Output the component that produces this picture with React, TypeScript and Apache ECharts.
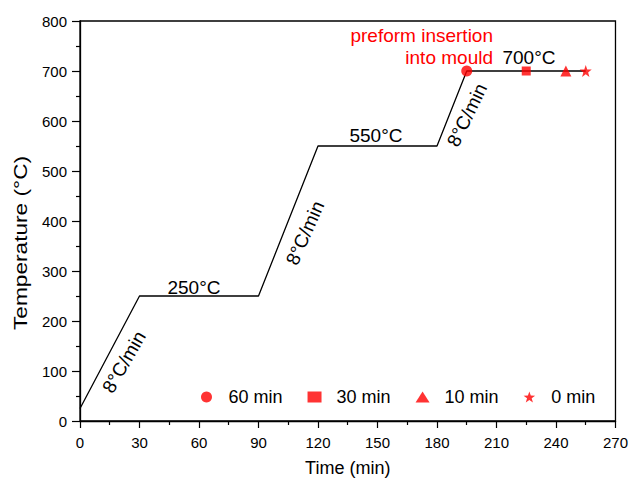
import React, { useEffect, useRef } from "react";
import * as echarts from "echarts";

const profileTime = [0, 30, 90, 120, 180, 195, 255];
const profileTemp = [25, 250, 250, 550, 550, 700, 700];

const markerNames = ["60 min", "30 min", "10 min", "0 min"];
const markerTime = [195, 225, 245, 255];
const markerTemp = [700, 700, 700, 700];

const xTicks = [0, 30, 60, 90, 120, 150, 180, 210, 240, 270];
const yTicks = [0, 100, 200, 300, 400, 500, 600, 700, 800];

const STAR =
  "path://M0,-10 L2.35,-3.24 9.51,-3.09 3.8,1.24 5.88,8.09 0,4 -5.88,8.09 -3.8,1.24 -9.51,-3.09 -2.35,-3.24 Z";
const markerSymbols = ["circle", "rect", "triangle", STAR];
const markerSizes = [11, 9, 11, 12];

const FONT = "'Liberation Sans', Arial, sans-serif";

export default function App() {
  const ref = useRef<HTMLDivElement>(null);
  useEffect(() => {
    document.body.style.margin = "0";
    const chart = echarts.init(ref.current!, null, { renderer: "svg" });
    const txt = (text: string, x: number, y: number, opts: any = {}) => ({
      type: "text",
      x,
      y,
      rotation: opts.rotation || 0,
      scaleX: opts.scaleX || 1,
      style: {
        text,
        fill: opts.color || "#000",
        font: `${opts.size || 19}px ${FONT}`,
        align: opts.align || "center",
        verticalAlign: "middle",
      },
    });
    const deg = Math.PI / 180;
    chart.setOption({
      animation: false,
      backgroundColor: "#fff",
      textStyle: { fontFamily: FONT },
      grid: {
        left: 80,
        right: 13,
        top: 21,
        bottom: 60,
        show: true,
        borderColor: "#000",
        borderWidth: 1.3,
        backgroundColor: "transparent",
      },
      xAxis: {
        type: "value",
        min: 0,
        max: 270,
        interval: 30,
        name: "Time (min)",
        nameLocation: "middle",
        nameGap: 38,
        nameTextStyle: { fontSize: 18, color: "#000", fontFamily: FONT },
        axisLine: { lineStyle: { color: "#000", width: 1.3 } },
        axisTick: { show: true, length: 7, lineStyle: { color: "#000", width: 1.2 } },
        minorTick: { show: true, splitNumber: 2, length: 4, lineStyle: { color: "#000", width: 1.2 } },
        axisLabel: {
          fontSize: 15,
          color: "#000",
          margin: 14,
          fontFamily: FONT,
          formatter: (v: number) => (xTicks.includes(v) ? String(v) : ""),
        },
        splitLine: { show: false },
      },
      yAxis: {
        type: "value",
        min: 0,
        max: 800,
        interval: 100,
        axisLine: { show: true, lineStyle: { color: "#000", width: 1.3 } },
        axisTick: { show: true, length: 8, lineStyle: { color: "#000", width: 1.2 } },
        minorTick: { show: true, splitNumber: 2, length: 4, lineStyle: { color: "#000", width: 1.2 } },
        axisLabel: {
          fontSize: 15,
          color: "#000",
          margin: 13,
          fontFamily: FONT,
          formatter: (v: number) => (yTicks.includes(v) ? String(v) : ""),
        },
        splitLine: { show: false },
      },
      legend: {
        data: markerNames,
        left: 196,
        top: 383,
        itemWidth: 14,
        itemHeight: 11,
        itemGap: 25,
        textStyle: { fontSize: 18, color: "#000", fontFamily: FONT, padding: [0, 0, 0, 10] },
      },
      graphic: [
        txt("Temperature (°C)", 20, 243, { rotation: 90 * deg, scaleX: 1.26, size: 18 }),
        txt("250°C", 194, 287),
        txt("550°C", 376, 135),
        txt("700°C", 529, 57),
        txt("preform insertion", 493, 35, { align: "right", color: "#ff0000" }),
        txt("into mould", 493, 57, { align: "right", color: "#ff0000" }),
        txt("8°C/min", 124, 362, { rotation: 60 * deg }),
        txt("8°C/min", 305, 233, { rotation: 66 * deg }),
        txt("8°C/min", 467, 115, { rotation: 64 * deg }),
      ],
      series: [
        {
          type: "line",
          name: "profile",
          data: profileTime.map((t, i) => [t, profileTemp[i]]),
          showSymbol: false,
          symbol: "none",
          lineStyle: { color: "#000", width: 1.3 },
          z: 1,
        },
        ...markerNames.map((n, i) => ({
          type: "scatter",
          name: n,
          data: [[markerTime[i], markerTemp[i]]],
          symbol: markerSymbols[i],
          symbolSize: markerSizes[i],
          itemStyle: { color: "#ff0000" },
          z: 3,
        })),
      ],
    });
    return () => chart.dispose();
  }, []);
  return <div ref={ref} style={{ width: 631, height: 482 }} />;
}
